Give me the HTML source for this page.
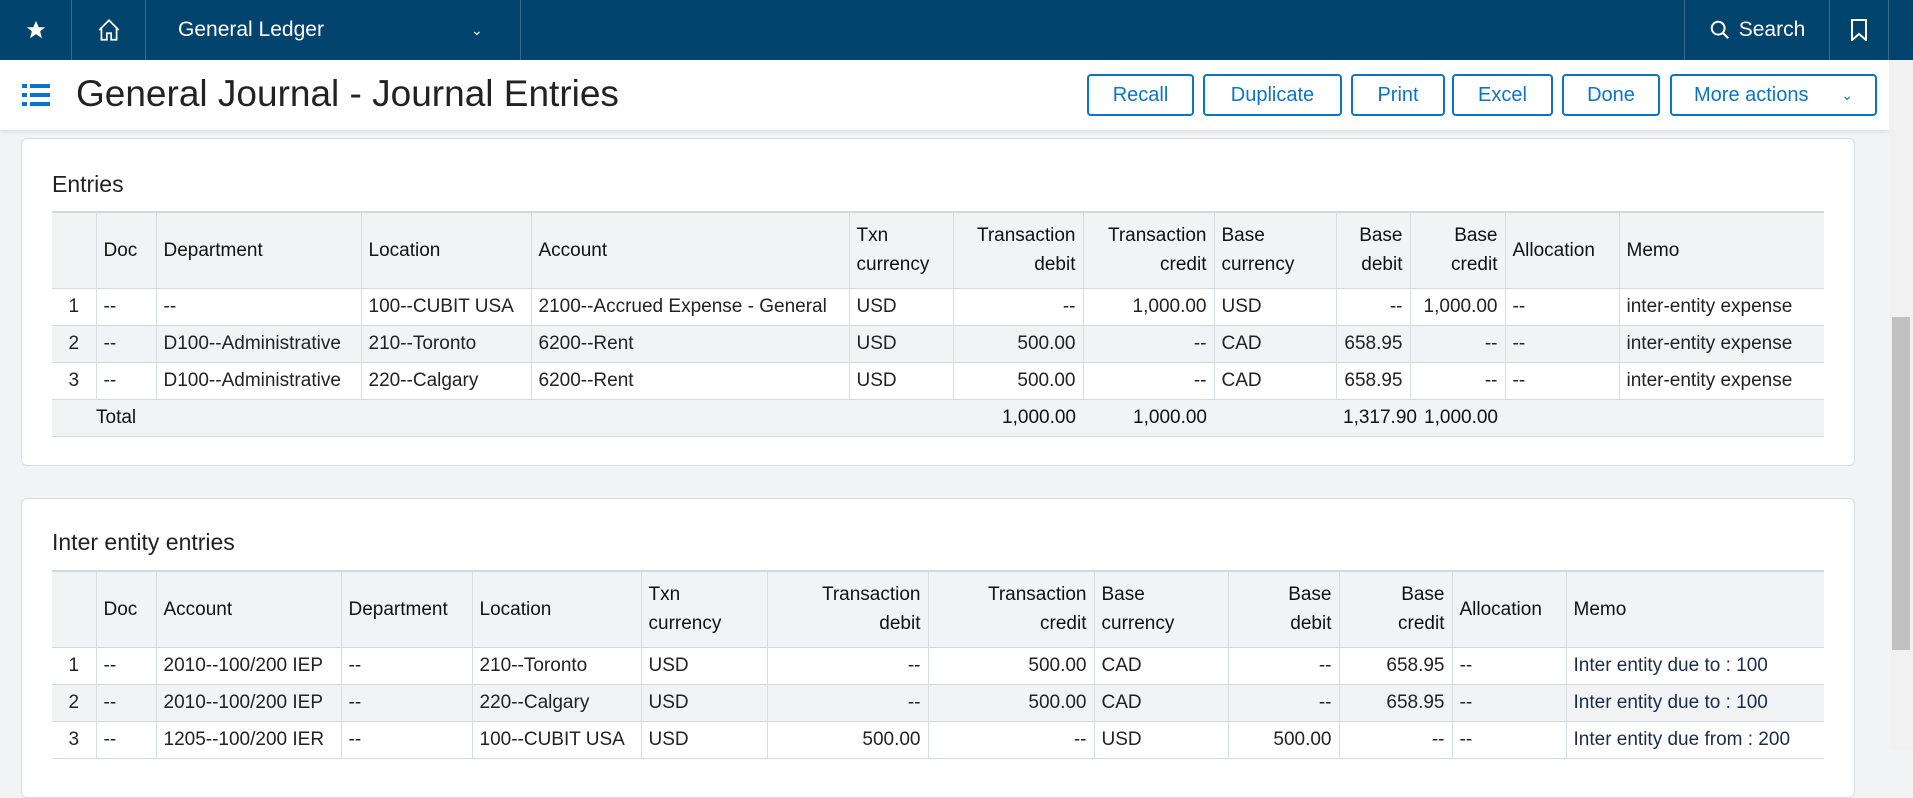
<!DOCTYPE html>
<html><head><meta charset="utf-8"><style>
*{box-sizing:border-box;margin:0;padding:0}
body{width:1913px;height:750px;overflow:hidden;background:#f1f3f4;font-family:"Liberation Sans",Arial,sans-serif;color:#222;position:relative}
.nav{position:absolute;left:0;top:0;width:1913px;height:60px;background:#03446f;color:#fff}
.nav .c{position:absolute;top:0;height:60px;border-right:1px solid #3a6a90;display:flex;align-items:center;justify-content:center;font-size:21px}
.hdr{position:absolute;left:0;top:60px;width:1889px;height:70px;background:#fff;box-shadow:0 2px 4px rgba(0,0,0,.08)}
.title{position:absolute;left:76px;top:13px;font-size:37px;color:#222}
.btn{position:absolute;top:14px;height:42px;border:2px solid #0a74c9;border-radius:4px;color:#0a74c9;font-size:20px;display:flex;align-items:center;justify-content:center;background:#fff}
.card{position:absolute;left:21px;width:1834px;background:#fff;border:1px solid #d8dde1;border-radius:6px}
.ct{position:absolute;left:30px;font-size:23px;color:#222}
table{position:absolute;left:30px;border-collapse:collapse;table-layout:fixed;font-size:19px}
td,th{border-left:1px solid #d7dce0;padding:0 7px;white-space:nowrap;overflow:hidden;font-weight:normal;text-align:left}
th{font-size:19px;color:#111}
td:first-child,th:first-child{border-left:none}
tr{border-bottom:1px solid #d3d8dc}
thead tr{border-top:2px solid #d3d8dc;background:#f1f3f5}
th{height:76px;line-height:29px;vertical-align:middle}
td{height:37px}
.g{background:#f1f3f5}
.r{text-align:right}
.n{text-align:center}
.m td:last-child{color:#1d2b4a}
.t td{color:#111}
</style></head><body>
<div class="nav">
 <div class="c" style="left:0;width:72px"><svg width="22" height="22" viewBox="0 0 24 24"><path fill="#fff" d="M12 2l3 7h7l-5.5 4.5 2 7.5-6.5-4.5-6.5 4.5 2-7.5L2 9h7z"/></svg></div>
 <div class="c" style="left:72px;width:74px"><svg width="26" height="26" viewBox="0 0 24 24" fill="none" stroke="#fff" stroke-width="1.6"><path d="M3 12L12 3l9 9M5 10v11h5v-6h4v6h5V10"/></svg></div>
 <div class="c" style="left:146px;width:375px;justify-content:flex-start;padding-left:32px">General Ledger<span style="position:absolute;left:325px;font-size:14px">&#8964;</span></div>
 <div class="c" style="left:1684px;width:146px;border-left:1px solid #3a6a90"><svg width="22" height="22" viewBox="0 0 24 24" fill="none" stroke="#fff" stroke-width="2.2" style="margin-right:8px"><circle cx="10" cy="10" r="7"/><path d="M15 15l6 6"/></svg>Search</div>
 <div class="c" style="left:1830px;width:59px"><svg width="18" height="22" viewBox="0 0 18 22" fill="none" stroke="#fff" stroke-width="2"><path d="M2 1h14v20l-7-6-7 6z"/></svg></div>
</div>
<div class="hdr">
 <svg style="position:absolute;left:22px;top:22px" width="28" height="26" viewBox="0 0 28 26"><g fill="#0a74c9"><rect x="0" y="2" width="5" height="4"/><rect x="8" y="2" width="20" height="4"/><rect x="0" y="11" width="5" height="4"/><rect x="8" y="11" width="20" height="4"/><rect x="0" y="20" width="5" height="4"/><rect x="8" y="20" width="20" height="4"/></g></svg>
 <div class="title">General Journal - Journal Entries</div>
 <div class="btn" style="left:1087px;width:107px">Recall</div>
 <div class="btn" style="left:1203px;width:139px">Duplicate</div>
 <div class="btn" style="left:1351px;width:94px">Print</div>
 <div class="btn" style="left:1452px;width:101px">Excel</div>
 <div class="btn" style="left:1562px;width:98px">Done</div>
 <div class="btn" style="left:1670px;width:207px;justify-content:flex-start;padding-left:22px">More actions<span style="position:absolute;right:22px;font-size:14px">&#8964;</span></div>
</div>
<div style="position:absolute;left:1889px;top:60px;width:24px;height:690px;background:#f1f1f1"></div>
<div style="position:absolute;left:1892px;top:317px;width:18px;height:333px;background:#c1c1c1"></div>

<div class="card" style="top:138px;height:328px">
 <div class="ct" style="top:32px">Entries</div>
 <table style="top:72px;width:1772px">
  <colgroup><col style="width:44px"><col style="width:60px"><col style="width:205px"><col style="width:170px"><col style="width:318px"><col style="width:104px"><col style="width:130px"><col style="width:131px"><col style="width:122px"><col style="width:74px"><col style="width:95px"><col style="width:114px"><col style="width:205px"></colgroup>
  <thead><tr><th></th><th>Doc</th><th>Department</th><th>Location</th><th>Account</th><th>Txn<br>currency</th><th class="r">Transaction<br>debit</th><th class="r">Transaction<br>credit</th><th>Base<br>currency</th><th class="r">Base<br>debit</th><th class="r">Base<br>credit</th><th>Allocation</th><th>Memo</th></tr></thead>
  <tr><td class="n">1</td><td>--</td><td>--</td><td>100--CUBIT USA</td><td>2100--Accrued Expense - General</td><td>USD</td><td class="r">--</td><td class="r">1,000.00</td><td>USD</td><td class="r">--</td><td class="r">1,000.00</td><td>--</td><td>inter-entity expense</td></tr>
  <tr class="g"><td class="n">2</td><td>--</td><td>D100--Administrative</td><td>210--Toronto</td><td>6200--Rent</td><td>USD</td><td class="r">500.00</td><td class="r">--</td><td>CAD</td><td class="r">658.95</td><td class="r">--</td><td>--</td><td>inter-entity expense</td></tr>
  <tr><td class="n">3</td><td>--</td><td>D100--Administrative</td><td>220--Calgary</td><td>6200--Rent</td><td>USD</td><td class="r">500.00</td><td class="r">--</td><td>CAD</td><td class="r">658.95</td><td class="r">--</td><td>--</td><td>inter-entity expense</td></tr>
  <tr class="g t"><td colspan="6" style="padding-left:44px">Total</td><td class="r" style="border:none">1,000.00</td><td class="r" style="border:none">1,000.00</td><td style="border:none"></td><td class="r" style="border:none;overflow:visible">1,317.90</td><td class="r" style="border:none">1,000.00</td><td style="border:none"></td><td style="border:none"></td></tr>
 </table>
</div>

<div class="card" style="top:498px;height:300px">
 <div class="ct" style="top:30px">Inter entity entries</div>
 <table class="m" style="top:71px;width:1772px">
  <colgroup><col style="width:44px"><col style="width:60px"><col style="width:185px"><col style="width:131px"><col style="width:169px"><col style="width:126px"><col style="width:161px"><col style="width:166px"><col style="width:134px"><col style="width:111px"><col style="width:113px"><col style="width:114px"><col style="width:258px"></colgroup>
  <thead><tr><th></th><th>Doc</th><th>Account</th><th>Department</th><th>Location</th><th>Txn<br>currency</th><th class="r">Transaction<br>debit</th><th class="r">Transaction<br>credit</th><th>Base<br>currency</th><th class="r">Base<br>debit</th><th class="r">Base<br>credit</th><th>Allocation</th><th>Memo</th></tr></thead>
  <tr><td class="n">1</td><td>--</td><td>2010--100/200 IEP</td><td>--</td><td>210--Toronto</td><td>USD</td><td class="r">--</td><td class="r">500.00</td><td>CAD</td><td class="r">--</td><td class="r">658.95</td><td>--</td><td>Inter entity due to : 100</td></tr>
  <tr class="g"><td class="n">2</td><td>--</td><td>2010--100/200 IEP</td><td>--</td><td>220--Calgary</td><td>USD</td><td class="r">--</td><td class="r">500.00</td><td>CAD</td><td class="r">--</td><td class="r">658.95</td><td>--</td><td>Inter entity due to : 100</td></tr>
  <tr><td class="n">3</td><td>--</td><td>1205--100/200 IER</td><td>--</td><td>100--CUBIT USA</td><td>USD</td><td class="r">500.00</td><td class="r">--</td><td>USD</td><td class="r">500.00</td><td class="r">--</td><td>--</td><td>Inter entity due from : 200</td></tr>
 </table>
</div>
</body></html>
